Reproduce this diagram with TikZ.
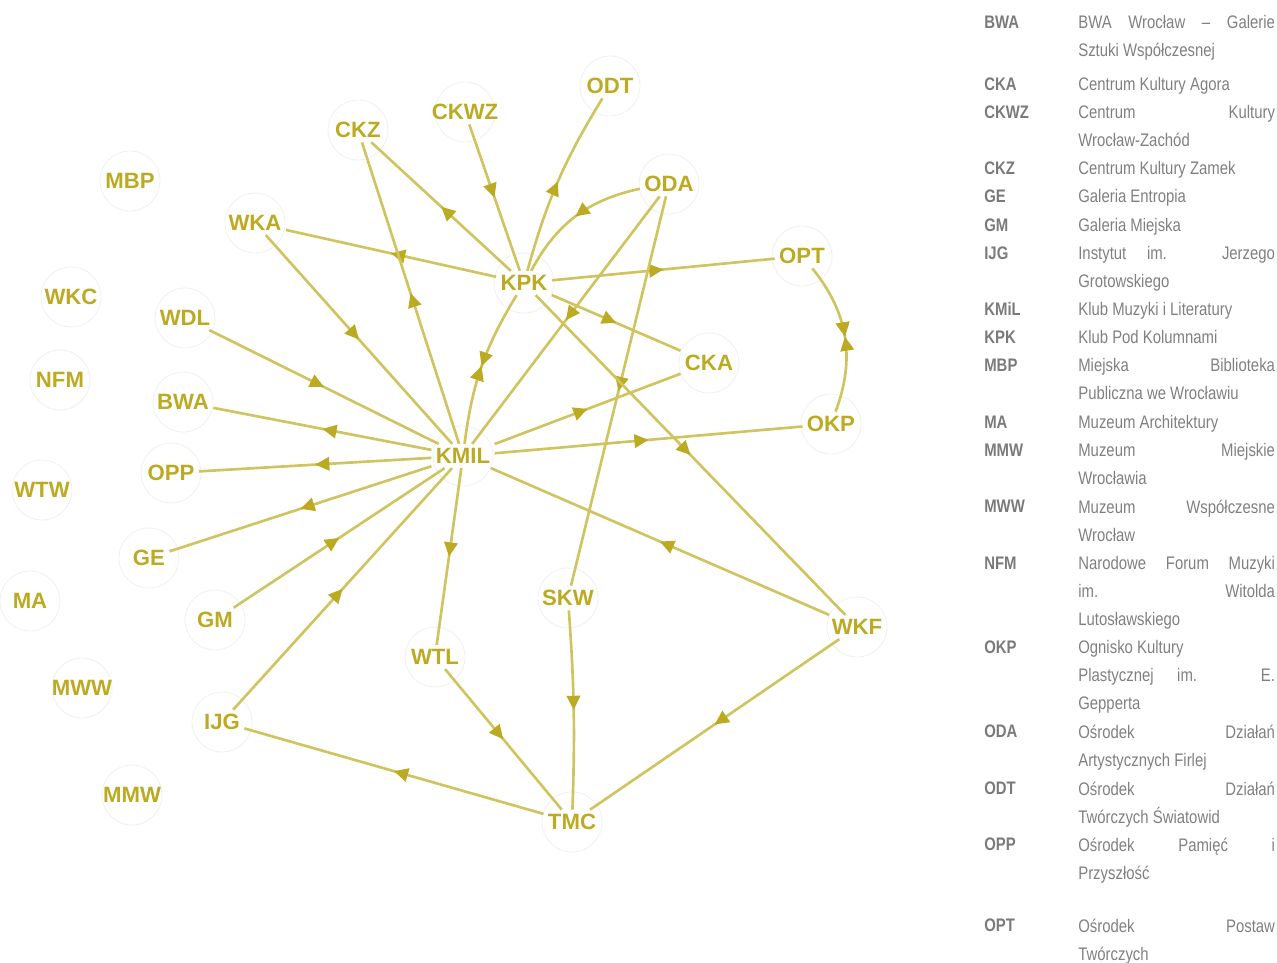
\documentclass[tikz,border=0pt]{standalone}
\usepackage{fontspec}
\setsansfont{Liberation Sans}
\newfontfamily\narrowsans{Liberation Sans}[FakeStretch=0.82]
\usetikzlibrary{arrows.meta,decorations.markings,backgrounds}
\definecolor{ochre}{RGB}{188,170,34}
\definecolor{edgec}{RGB}{208,196,96}
\definecolor{legc}{RGB}{128,128,128}
\newlength\dw\setlength\dw{118pt}
\newcommand\jl[1]{\hbox to\dw{#1}}
\tikzset{org/.style={font=\sffamily\bfseries\fontsize{13.3}{14}\selectfont,text=ochre,inner sep=2.5pt},
ring/.style={draw=black!6,line width=.5pt},
midtip/.tip={Triangle[length=8.5pt,width=8pt,color=ochre]},
arr/.style={draw=edgec,line width=1.6pt,postaction={decorate},decoration={markings,mark=at position .5 with {\arrow{midtip}}}},
both/.style={arr,decoration={markings,mark=at position .5 with {\arrow{midtip}\arrowreversed{midtip}}}},
ab/.style={font=\narrowsans\bfseries\fontsize{10.9}{16.8}\selectfont,text=legc!95!black,anchor=base west,inner sep=0pt},
ds/.style={font=\narrowsans\fontsize{10.9}{16.8}\selectfont,text=legc,anchor=north west,yshift=11.76pt,align=left,inner sep=0pt,execute at begin node=\strut},
dsm/.style={ds,yshift=-4.2pt}}
\begin{document}
\begin{tikzpicture}[x=0.6pt,y=-0.6pt]
\useasboundingbox(0,0)rectangle(1277,963);
% organisations
\node[org](ODT)at(610,86){ODT};\node[org](CKWZ)at(465,112){CKWZ};\node[org](CKZ)at(358,130){CKZ};
\node[org](MBP)at(130,181){MBP};\node[org](ODA)at(669,184){ODA};\node[org](WKA)at(255,223){WKA};
\node[org](KPK)at(524,283){KPK};\node[org](OPT)at(802,256){OPT};\node[org](WKC)at(71,297){WKC};
\node[org](WDL)at(185,318){WDL};\node[org](NFM)at(60,380){NFM};\node[org](CKA)at(709,363){CKA};
\node[org](BWA)at(183,402){BWA};\node[org](OKP)at(831,424){OKP};\node[org](KMIL)at(463,456){KMIL};
\node[org](OPP)at(171,473){OPP};\node[org](WTW)at(42,490){WTW};\node[org](GE)at(149,558){GE};
\node[org](SKW)at(568,598){SKW};\node[org](MA)at(30,601){MA};\node[org](GM)at(215,620){GM};
\node[org](WKF)at(857,627){WKF};\node[org](WTL)at(435,657){WTL};\node[org](MWW)at(82,688){MWW};
\node[org](IJG)at(222,722){IJG};\node[org](MMW)at(132,795){MMW};\node[org](TMC)at(572,822){TMC};
\begin{scope}[on background layer]
\foreach\n in{ODT,CKWZ,CKZ,MBP,ODA,WKA,KPK,OPT,WKC,WDL,NFM,CKA,BWA,OKP,KMIL,OPP,WTW,GE,SKW,MA,GM,WKF,WTL,MWW,IJG,MMW,TMC}\draw[ring](\n)circle(18pt);
\end{scope}
% links
\foreach\a/\b in{CKWZ/KPK,KPK/CKZ,KPK/WKA,KMIL/CKZ,WKA/KMIL,WDL/KMIL,KMIL/BWA,KMIL/OPP,KMIL/GE,GM/KMIL,IJG/KMIL,KMIL/WTL,KPK/OPT,KPK/CKA,ODA/SKW,ODA/KMIL,KMIL/CKA,KMIL/OKP,WKF/KMIL,KPK/WKF,WTL/TMC,TMC/IJG,WKF/TMC}\draw[arr](\a)--(\b);
\draw[arr](KPK)to[bend left=8](ODT);\draw[arr](ODA)to[bend right=25](KPK);\draw[arr](SKW)to[bend left=3](TMC);
\draw[both](KMIL)to[bend left=12](KPK);\draw[both](OPT)to[bend left=30](OKP);
% legend
\node[ab]at(984,28){BWA};\node[dsm]at(1078,28){\jl{BWA Wrocław – Galerie}\\Sztuki Współczesnej};
\node[ab]at(984,90){CKA};\node[ds]at(1078,90){Centrum Kultury Agora};
\node[ab]at(984,118){CKWZ};\node[dsm]at(1078,118){\jl{Centrum Kultury}\\Wrocław-Zachód};
\node[ab]at(984,174){CKZ};\node[ds]at(1078,174){Centrum Kultury Zamek};
\node[ab]at(984,202){GE};\node[ds]at(1078,202){Galeria Entropia};
\node[ab]at(984,231){GM};\node[ds]at(1078,231){Galeria Miejska};
\node[ab]at(984,259){IJG};\node[dsm]at(1078,259){\jl{Instytut im. Jerzego}\\Grotowskiego};
\node[ab]at(984,315){KMiL};\node[ds]at(1078,315){Klub Muzyki i Literatury};
\node[ab]at(984,343){KPK};\node[ds]at(1078,343){Klub Pod Kolumnami};
\node[ab]at(984,371){MBP};\node[dsm]at(1078,371){\jl{Miejska Biblioteka}\\Publiczna we Wrocławiu};
\node[ab]at(984,428){MA};\node[ds]at(1078,428){Muzeum Architektury};
\node[ab]at(984,456){MMW};\node[dsm]at(1078,456){\jl{Muzeum Miejskie}\\Wrocławia};
\node[ab]at(984,512){MWW};\node[dsm]at(1078,512){\jl{Muzeum Współczesne}\\Wrocław};
\node[ab]at(984,569){NFM};\node[dsm]at(1078,569){\jl{Narodowe Forum Muzyki}\\\jl{im. Witolda}\\Lutosławskiego};
\node[ab]at(984,653){OKP};\node[dsm]at(1078,653){Ognisko Kultury\\\jl{Plastycznej im. E.}\\Gepperta};
\node[ab]at(984,737){ODA};\node[dsm]at(1078,737){\jl{Ośrodek Działań}\\Artystycznych Firlej};
\node[ab]at(984,794){ODT};\node[dsm]at(1078,794){\jl{Ośrodek Działań}\\Twórczych Światowid};
\node[ab]at(984,850){OPP};\node[dsm]at(1078,850){\jl{Ośrodek Pamięć i}\\Przyszłość};
\node[ab]at(984,931){OPT};\node[dsm]at(1078,931){\jl{Ośrodek Postaw}\\Twórczych};
\end{tikzpicture}
\end{document}
